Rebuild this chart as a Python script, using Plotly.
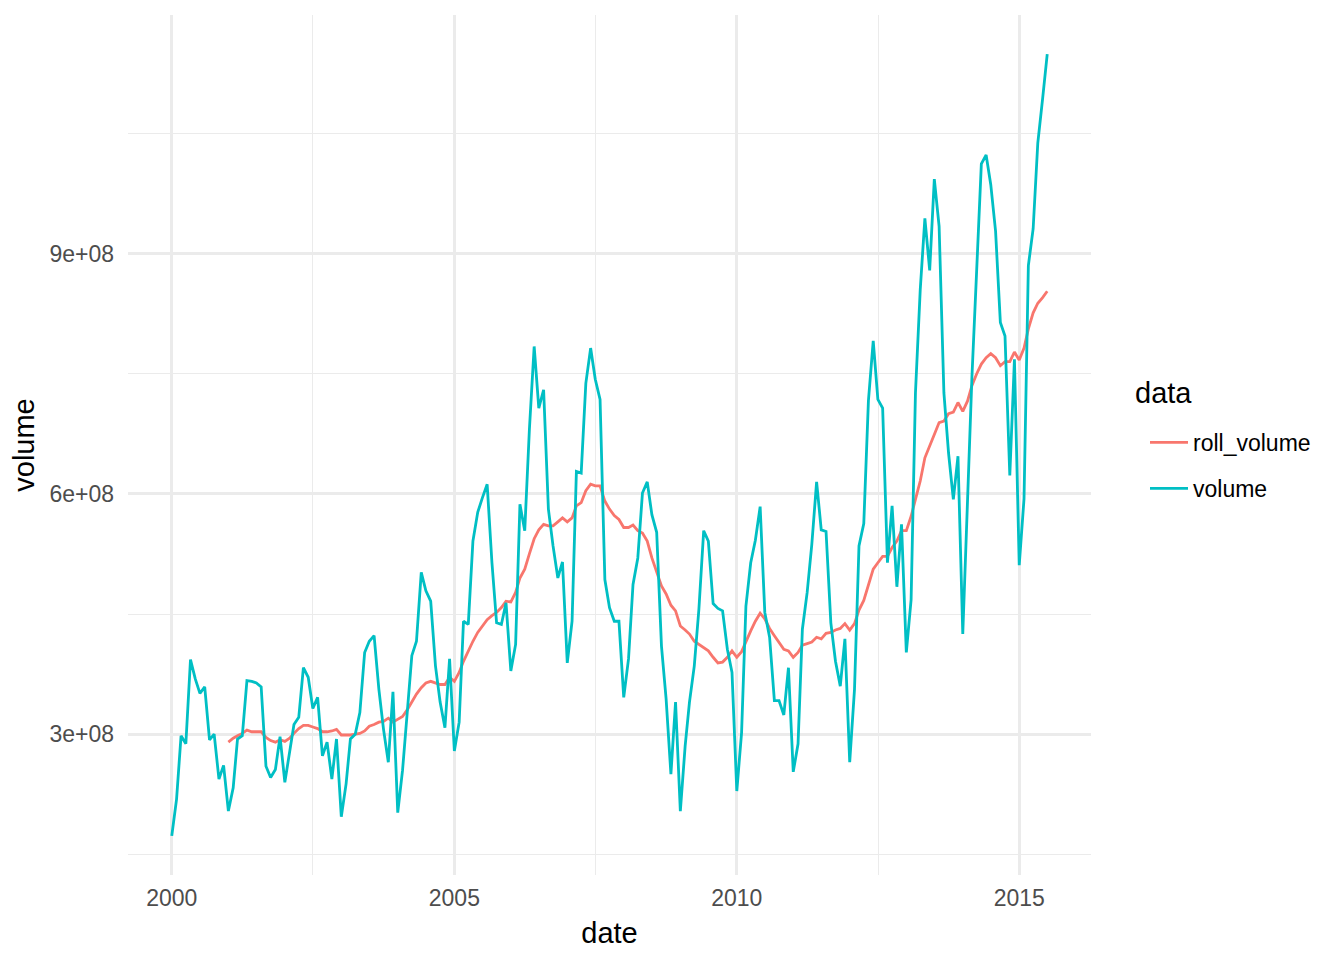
import pandas as pd
import plotly.graph_objects as go

# ---- data (volume values in units of 1e8) ----
DATES = pd.date_range("2000-01-01", "2015-07-01", freq="MS")

VOLUME_E8 = [
    1.73, 2.19, 2.98, 2.88, 3.93, 3.69, 3.51, 3.59, 2.93, 3.00, 2.44, 2.61,   # 2000
    2.04, 2.33, 2.94, 2.98, 3.67, 3.66, 3.64, 3.59, 2.60, 2.46, 2.56, 2.97,   # 2001
    2.40, 2.77, 3.12, 3.21, 3.83, 3.71, 3.32, 3.46, 2.73, 2.90, 2.44, 2.94,   # 2002
    1.97, 2.38, 2.94, 3.00, 3.27, 4.02, 4.16, 4.23, 3.56, 3.06, 2.65, 3.53,   # 2003
    2.02, 2.55, 3.25, 3.98, 4.16, 5.02, 4.79, 4.66, 3.85, 3.40, 3.08, 3.94,   # 2004
    2.79, 3.15, 4.41, 4.37, 5.41, 5.77, 5.95, 6.12, 5.14, 4.39, 4.37, 4.64,   # 2005
    3.79, 4.12, 5.87, 5.54, 6.80, 7.84, 7.07, 7.30, 5.81, 5.35, 4.95, 5.15,   # 2006
    3.89, 4.41, 6.28, 6.26, 7.38, 7.82, 7.43, 7.18, 4.93, 4.58, 4.41, 4.41,   # 2007
    3.46, 3.94, 4.87, 5.20, 6.01, 6.15, 5.74, 5.52, 4.10, 3.44, 2.50, 3.40,   # 2008
    2.04, 2.85, 3.40, 3.85, 4.56, 5.54, 5.41, 4.63, 4.57, 4.54, 4.06, 3.77,   # 2009
    2.29, 3.02, 4.60, 5.14, 5.42, 5.84, 4.52, 4.21, 3.42, 3.42, 3.24, 3.83,   # 2010
    2.53, 2.88, 4.31, 4.77, 5.37, 6.15, 5.55, 5.53, 4.39, 3.91, 3.60, 4.19,   # 2011
    2.65, 3.56, 5.35, 5.63, 7.16, 7.91, 7.18, 7.07, 5.14, 5.85, 4.84, 5.62,   # 2012
    4.02, 4.68, 7.26, 8.55, 9.44, 8.79, 9.93, 9.34, 7.26, 6.51, 5.93, 6.47,   # 2013
    4.25, 5.90, 7.45, 8.80, 10.12, 10.23, 9.86, 9.28, 8.14, 7.97, 6.23, 7.68, # 2014
    5.11, 5.94, 8.85, 9.31, 10.38, 10.93, 11.49,                              # 2015
]

ROLL_DATES = DATES[12:]
ROLL_VOLUME_E8 = [
    2.90, 2.95, 2.98, 3.01, 3.05, 3.03, 3.03, 3.03, 2.96, 2.92, 2.90, 2.93,   # 2001
    2.91, 2.95, 3.01, 3.07, 3.11, 3.11, 3.09, 3.07, 3.03, 3.03, 3.04, 3.06,   # 2002
    2.99, 2.99, 2.99, 3.00, 3.01, 3.04, 3.10, 3.12, 3.15, 3.16, 3.20, 3.15,   # 2003
    3.19, 3.22, 3.30, 3.40, 3.50, 3.58, 3.64, 3.66, 3.64, 3.62, 3.62, 3.71,   # 2004
    3.66, 3.77, 3.91, 4.04, 4.16, 4.27, 4.35, 4.43, 4.48, 4.52, 4.58, 4.66,   # 2005
    4.65, 4.77, 4.95, 5.06, 5.25, 5.44, 5.55, 5.62, 5.60, 5.60, 5.65, 5.70,   # 2006
    5.65, 5.70, 5.85, 5.89, 6.04, 6.12, 6.10, 6.10, 5.91, 5.81, 5.73, 5.68,   # 2007
    5.58, 5.58, 5.61, 5.54, 5.51, 5.41, 5.20, 5.02, 4.85, 4.75, 4.61, 4.54,   # 2008
    4.35, 4.30, 4.25, 4.16, 4.12, 4.09, 4.04, 3.96, 3.89, 3.90, 3.96, 4.04,   # 2009
    3.96, 4.03, 4.16, 4.29, 4.41, 4.51, 4.44, 4.32, 4.23, 4.14, 4.06, 4.04,   # 2010
    3.96, 4.02, 4.11, 4.13, 4.15, 4.21, 4.19, 4.26, 4.27, 4.30, 4.32, 4.38,   # 2011
    4.30, 4.38, 4.55, 4.67, 4.85, 5.06, 5.14, 5.22, 5.22, 5.33, 5.41, 5.54,   # 2012
    5.54, 5.72, 5.93, 6.16, 6.45, 6.59, 6.74, 6.89, 6.91, 7.00, 7.02, 7.14,   # 2013
    7.03, 7.16, 7.35, 7.50, 7.62, 7.70, 7.75, 7.70, 7.60, 7.65, 7.65, 7.77,   # 2014
    7.67, 7.82, 8.06, 8.26, 8.38, 8.45, 8.53,                                 # 2015
]

SERIES_NAMES = ["roll_volume", "volume"]
SERIES_COLORS = ["#F8766D", "#00BFC4"]

X_TICK_DATES = ["2000-01-01", "2005-01-01", "2010-01-01", "2015-01-01"]
X_TICK_LABELS = ["2000", "2005", "2010", "2015"]
X_MINOR_DATES = ["2002-07-02", "2007-07-02", "2012-07-02"]
Y_TICK_VALUES = [3e8, 6e8, 9e8]
Y_TICK_LABELS = ["3e+08", "6e+08", "9e+08"]
Y_MINOR_VALUES = [1.5e8, 4.5e8, 7.5e8, 10.5e8]

# ---- figure ----
volume = [v * 1e8 for v in VOLUME_E8]
roll = [v * 1e8 for v in ROLL_VOLUME_E8]

FONT = "Liberation Sans"
GRID = "#EBEBEB"

fig = go.Figure()
fig.add_trace(go.Scatter(x=ROLL_DATES, y=roll, mode="lines", name=SERIES_NAMES[0],
                         legendgroup="a", line=dict(color=SERIES_COLORS[0], width=2.8)))
fig.add_trace(go.Scatter(x=DATES, y=volume, mode="lines", name=SERIES_NAMES[1],
                         legendgroup="b", line=dict(color=SERIES_COLORS[1], width=2.8)))

span = DATES[-1] - DATES[0]
x_range = [DATES[0] - span * 0.05, DATES[-1] + span * 0.05]
ymin, ymax = min(volume), max(volume)
yspan = ymax - ymin
y_range = [ymin - 0.05 * yspan, ymax + 0.05 * yspan]

# page has an 8px body margin, so the figure is drawn 8px smaller and offset
OFF = 8
W, H = 1344 - OFF, 960 - OFF
L, R, T, B = 128 - OFF, 253, 15 - OFF, 85
pw, ph = W - L - R, H - T - B

def px_x(x):  # page pixel -> paper coord
    return (x - OFF - L) / pw

def px_y(y):
    return (H - B - (y - OFF)) / ph

fig.update_layout(
    width=W, height=H,
    margin=dict(l=L, r=R, t=T, b=B, pad=0),
    paper_bgcolor="white", plot_bgcolor="white",
    font=dict(family=FONT, size=23, color="black"),
    showlegend=True,
    legend=dict(
        x=px_x(1145), y=px_y(421), xanchor="left", yanchor="top",
        font=dict(family=FONT, size=23, color="black"),
        tracegroupgap=13, traceorder="grouped", itemwidth=38,
        bgcolor="rgba(0,0,0,0)",
    ),
    xaxis=dict(
        type="date", range=x_range,
        tickmode="array", tickvals=X_TICK_DATES, ticktext=X_TICK_LABELS,
        showgrid=True, gridcolor=GRID, gridwidth=2.8,
        minor=dict(tickmode="array", tickvals=X_MINOR_DATES, showgrid=True,
                   gridcolor=GRID, gridwidth=1.4, ticks=""),
        zeroline=False, showline=False, ticks="",
        tickfont=dict(family=FONT, size=23, color="#4D4D4D"),
        ticklabelstandoff=7,
        title=dict(text="date", font=dict(family=FONT, size=29, color="black"), standoff=12),
    ),
    yaxis=dict(
        range=y_range,
        tickmode="array", tickvals=Y_TICK_VALUES, ticktext=Y_TICK_LABELS,
        showgrid=True, gridcolor=GRID, gridwidth=2.8,
        minor=dict(tickmode="array", tickvals=Y_MINOR_VALUES, showgrid=True,
                   gridcolor=GRID, gridwidth=1.4, ticks=""),
        zeroline=False, showline=False, ticks="",
        tickfont=dict(family=FONT, size=23, color="#4D4D4D"),
        ticklabelstandoff=13,
        title=dict(text="volume", font=dict(family=FONT, size=29, color="black"), standoff=10),
    ),
    annotations=[dict(
        text="data", xref="paper", yref="paper", x=px_x(1133), y=px_y(393),
        xanchor="left", yanchor="middle", showarrow=False,
        font=dict(family=FONT, size=29, color="black"),
    )],
)

fig.write_html("out.html")
